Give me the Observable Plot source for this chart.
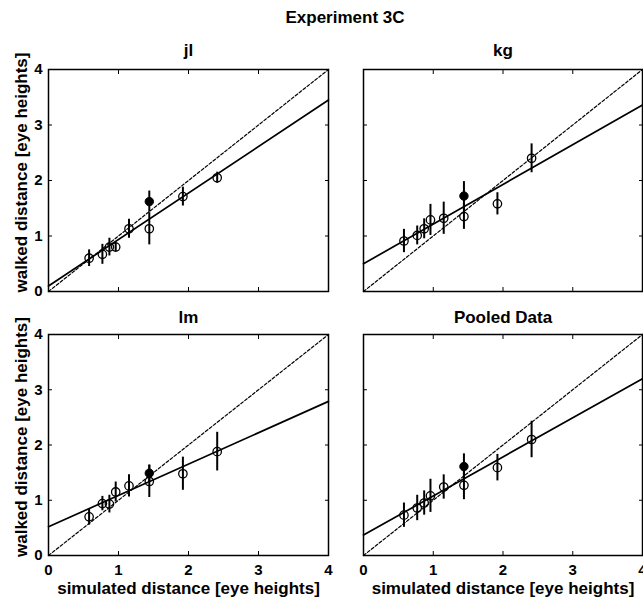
<!DOCTYPE html>
<html>
<head>
<meta charset="utf-8">
<script src="https://cdn.jsdelivr.net/npm/d3@7"></script>
<script src="https://cdn.jsdelivr.net/npm/@observablehq/plot@0.6"></script>
<style>
  html, body { margin: 0; padding: 0; background: #fff; }
  #wrap { position: relative; width: 643px; height: 598px; overflow: hidden; background: #fff;
          font-family: "Liberation Sans", Arial, Helvetica, sans-serif; }
  #title { position: absolute; left: 245px; width: 200px; top: 8px; text-align: center;
           font-weight: bold; font-size: 17px; line-height: 20px; color: #000; }
  .panel { position: absolute; }
</style>
</head>
<body>
<div id="wrap">
  <div id="title">Experiment 3C</div>
</div>
<script>
// ---- data ----
const figureTitle = "Experiment 3C";
const panelTitles = ["jl", "kg", "lm", "Pooled Data"];
const xAxisLabel = "simulated distance [eye heights]";
const yAxisLabel = "walked distance [eye heights]";
const axisTicks = [0, 1, 2, 3, 4];

// simulated distances (open circles)
const simDist = [0.58, 0.77, 0.87, 0.96, 1.15, 1.44, 1.92, 2.41];

const walkedJl     = [0.60, 0.67, 0.80, 0.80, 1.13, 1.13, 1.71, 2.05];
const errJl        = [0.15, 0.18, 0.16, 0.08, 0.17, 0.29, 0.17, 0.10];
const walkedKg     = [0.91, 1.01, 1.13, 1.29, 1.32, 1.35, 1.58, 2.40];
const errKg        = [0.21, 0.17, 0.18, 0.28, 0.29, 0.23, 0.20, 0.26];
const walkedLm     = [0.70, 0.94, 0.93, 1.15, 1.26, 1.34, 1.48, 1.88];
const errLm        = [0.15, 0.13, 0.16, 0.18, 0.20, 0.29, 0.30, 0.35];
const walkedPooled = [0.73, 0.86, 0.95, 1.08, 1.24, 1.27, 1.59, 2.10];
const errPooled    = [0.22, 0.23, 0.22, 0.30, 0.22, 0.26, 0.24, 0.33];

// filled marker (one per panel)
const filledX   = 1.44;
const filledY   = [1.62, 1.72, 1.49, 1.61];
const filledErr = [0.19, 0.26, 0.15, 0.23];

// fitted line endpoints (at x = 0 and x = 4) and identity line
const fitX = [0, 4];
const fitJl = [0.10, 3.45];
const fitKg = [0.50, 3.36];
const fitLm = [0.52, 2.79];
const fitPooled = [0.37, 3.20];
const identityY = [0, 4];

// ---- build panels ----
const FONT = '"Liberation Sans", Arial, Helvetica, sans-serif';
const walkedAll = [walkedJl, walkedKg, walkedLm, walkedPooled];
const errAll = [errJl, errKg, errLm, errPooled];
const fitAll = [fitJl, fitKg, fitLm, fitPooled];
const fmt = d => String(d);

const layouts = [
  {left: 0,   top: 30,  width: 333, height: 270, mt: 39, mb: 9,  ml: 48, mr: 5, showX: false, showY: true,  titleDy: -19},
  {left: 315, top: 30,  width: 328, height: 270, mt: 39, mb: 9,  ml: 48, mr: 1, showX: false, showY: false, titleDy: -19},
  {left: 0,   top: 300, width: 333, height: 298, mt: 34, mb: 43, ml: 48, mr: 5, showX: true,  showY: true,  titleDy: -17},
  {left: 315, top: 300, width: 328, height: 298, mt: 34, mb: 43, ml: 48, mr: 1, showX: true,  showY: false, titleDy: -17}
];

const wrap = document.getElementById("wrap");

panelTitles.forEach((title, i) => {
  const L = layouts[i];
  const pts = simDist.map((x, j) => ({x, y: walkedAll[i][j], e: errAll[i][j]}));
  const filled = [{x: filledX, y: filledY[i], e: filledErr[i]}];
  const fit = fitX.map((x, j) => ({x, y: fitAll[i][j]}));
  const ident = fitX.map((x, j) => ({x, y: identityY[j]}));

  const marks = [
    Plot.line(ident, {x: "x", y: "y", stroke: "black", strokeWidth: 1.2, strokeDasharray: "3,2"}),
    Plot.line(fit, {x: "x", y: "y", stroke: "black", strokeWidth: 1.7}),
    Plot.ruleX(pts, {x: "x", y1: d => d.y - d.e, y2: d => d.y + d.e, stroke: "black", strokeWidth: 2}),
    Plot.ruleX(filled, {x: "x", y1: d => d.y - d.e, y2: d => d.y + d.e, stroke: "black", strokeWidth: 2}),
    Plot.dot(pts, {x: "x", y: "y", r: 4.2, stroke: "black", strokeWidth: 1.3, fill: "none"}),
    Plot.dot(filled, {x: "x", y: "y", r: 4.2, stroke: "black", strokeWidth: 1, fill: "black"}),
    Plot.frame({stroke: "black", strokeWidth: 1.5}),
    // inward ticks on all four sides
    Plot.axisX({anchor: "top", ticks: axisTicks, tickSize: -4, fill: "none", label: null}),
    Plot.axisY({anchor: "right", ticks: axisTicks, tickSize: -4, fill: "none", label: null}),
    L.showX
      ? Plot.axisX({anchor: "bottom", ticks: axisTicks, tickFormat: fmt, tickSize: -4, tickPadding: 13, fontSize: 15, fontWeight: "bold", label: null})
      : Plot.axisX({anchor: "bottom", ticks: axisTicks, tickSize: -4, fill: "none", label: null}),
    L.showY
      ? Plot.axisY({anchor: "left", ticks: axisTicks, tickFormat: fmt, tickSize: -4, tickPadding: 10, fontSize: 15, fontWeight: "bold", label: null})
      : Plot.axisY({anchor: "left", ticks: axisTicks, tickSize: -4, fill: "none", label: null}),
    Plot.text([title], {text: d => d, frameAnchor: "top", dy: L.titleDy, lineAnchor: "middle",
                        fontSize: 17, fontWeight: "bold", fill: "black"})
  ];
  if (L.showY) {
    marks.push(Plot.text([yAxisLabel], {text: d => d, frameAnchor: "left", dx: -27, dy: -8, rotate: -90,
      textAnchor: "middle", lineAnchor: "middle", fontSize: 17, fontWeight: "bold", fill: "black"}));
  }
  if (L.showX) {
    marks.push(Plot.text([xAxisLabel], {text: d => d, frameAnchor: "bottom", dy: 33,
      textAnchor: "middle", lineAnchor: "middle", fontSize: 17, fontWeight: "bold", fill: "black"}));
  }

  const svg = Plot.plot({
    width: L.width, height: L.height,
    marginTop: L.mt, marginBottom: L.mb, marginLeft: L.ml, marginRight: L.mr,
    x: {domain: [0, 4]},
    y: {domain: [0, 4]},
    style: {fontFamily: FONT, fontSize: "15px", color: "black", background: "transparent", overflow: "visible"},
    marks
  });
  const holder = document.createElement("div");
  holder.className = "panel";
  holder.style.left = L.left + "px";
  holder.style.top = L.top + "px";
  holder.appendChild(svg);
  wrap.appendChild(holder);
});
document.getElementById("title").textContent = figureTitle;
</script>
</body>
</html>
